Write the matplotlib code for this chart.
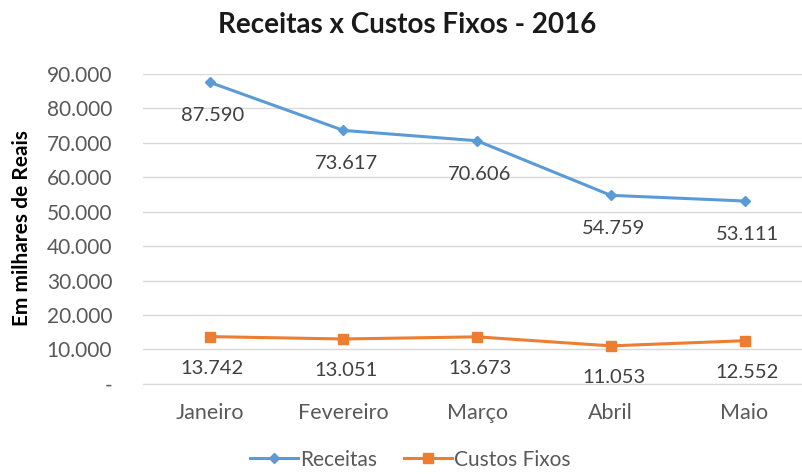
import matplotlib
matplotlib.use("Agg")
import matplotlib.pyplot as plt
from matplotlib.ticker import FuncFormatter

# --- Data ---
months = ["Janeiro", "Fevereiro", "Março", "Abril", "Maio"]
receitas = [87590, 73617, 70606, 54759, 53111]
custos_fixos = [13742, 13051, 13673, 11053, 12552]
y_ticks = [0, 10000, 20000, 30000, 40000, 50000, 60000, 70000, 80000, 90000]

BLUE = "#5B9BD5"
ORANGE = "#ED7D31"
GRID = "#D9D9D9"
TEXT = "#595959"

plt.rcParams['font.family'] = ['Lato', 'DejaVu Sans']


def br_format(v, pos=None):
    # Excel accounting style: zero shown as a dash, dot as thousands separator
    if v == 0:
        return "-"
    return f"{int(round(v)):,}".replace(",", ".")


fig = plt.figure(figsize=(8.02, 4.74), dpi=100)
ax = fig.add_axes([0.178, 0.19, 0.822, 0.654])

x = list(range(len(months)))
ax.plot(x, receitas, color=BLUE, lw=2.2, marker="D", ms=5, label="Receitas")
ax.plot(x, custos_fixos, color=ORANGE, lw=2.2, marker="s", ms=7, label="Custos Fixos")

for xi, v in zip(x, receitas):
    ax.annotate(br_format(v), (xi, v), xytext=(2, -24), textcoords="offset points",
                ha="center", va="center", fontsize=14.5, color="#404040")
for xi, v in zip(x, custos_fixos):
    ax.annotate(br_format(v), (xi, v), xytext=(2, -23), textcoords="offset points",
                ha="center", va="center", fontsize=14.5, color="#404040")

ax.set_xlim(-0.5, 4.43)
ax.set_ylim(0, 90000)
ax.set_yticks(y_ticks)
ax.yaxis.set_major_formatter(FuncFormatter(br_format))
ax.set_xticks(x)
ax.set_xticklabels(months)
ax.tick_params(axis="both", length=0, labelcolor=TEXT)
ax.tick_params(axis="y", labelsize=15, pad=22)
ax.tick_params(axis="x", labelsize=15.5, pad=14)
ax.grid(axis="y", color=GRID, lw=1)
ax.set_axisbelow(True)
for side in ["top", "right", "left"]:
    ax.spines[side].set_visible(False)
ax.spines["bottom"].set_color(GRID)

fig.text(0.028, 0.519, "Em milhares de Reais", rotation=90, ha="center", va="center",
         fontsize=15, fontweight="bold", color="black")
fig.suptitle("Receitas x Custos Fixos - 2016", x=0.508, y=0.947, va="center",
             fontsize=20, fontweight="bold", color="#1a1a1a")

fig.legend(loc="center", bbox_to_anchor=(0.512, 0.03), ncol=2, frameon=False,
           fontsize=15, labelcolor=TEXT, handlelength=2.3, columnspacing=1.3,
           handletextpad=0.1, borderpad=0.1)

fig.savefig("out.png", dpi=100, facecolor="white")
